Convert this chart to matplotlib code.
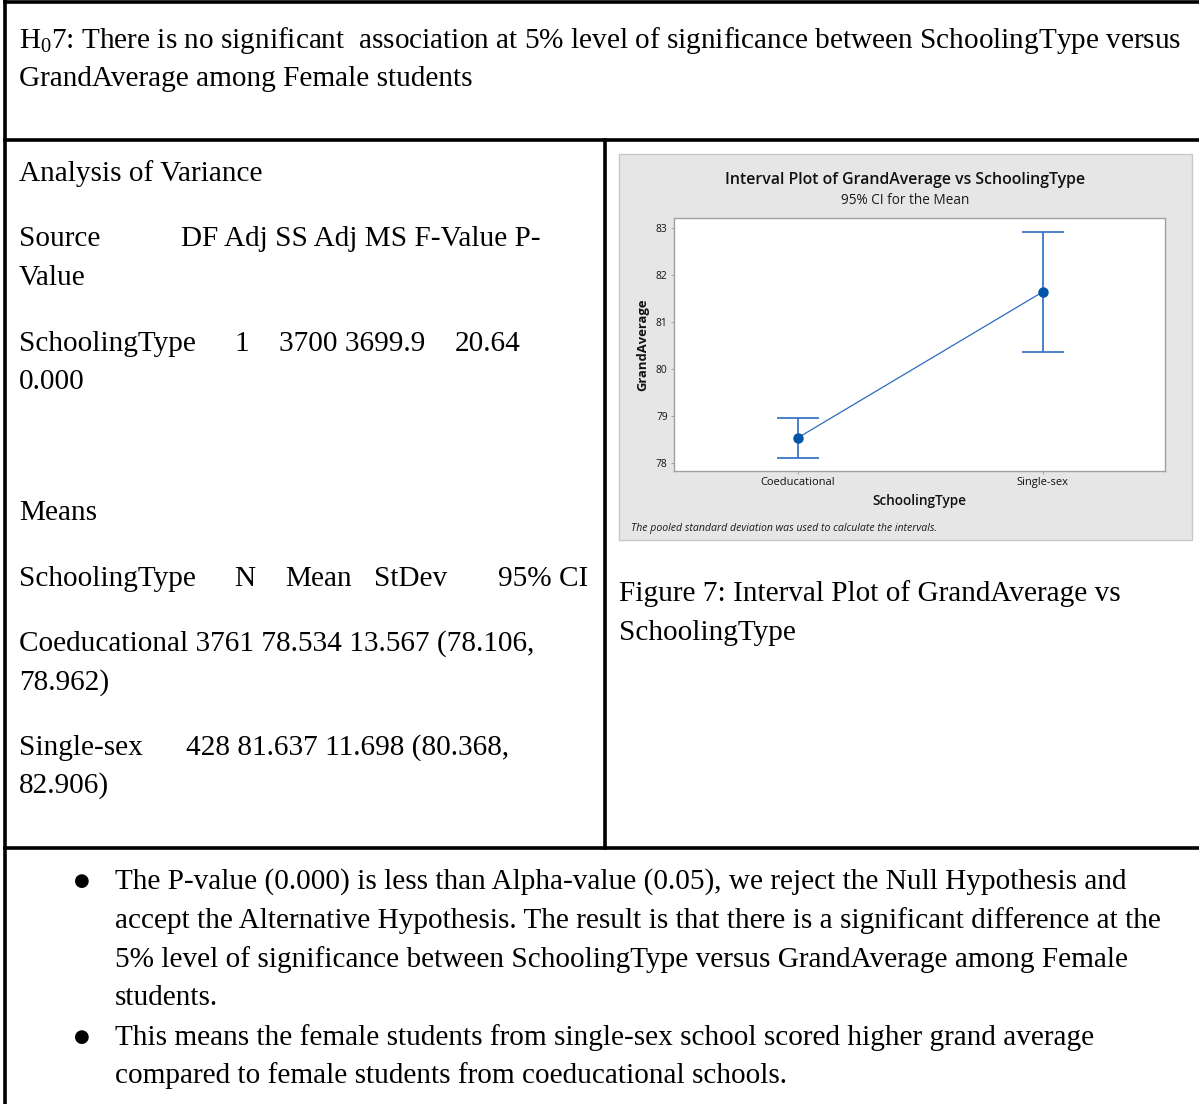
import matplotlib.pyplot as plt
from matplotlib.patches import Rectangle

W, H = 1199, 1104

CATEGORIES = ['Coeducational', 'Single-sex']
MEANS = [78.534, 81.637]
CI_LOW = [78.106, 80.368]
CI_HIGH = [78.962, 82.906]
Y_TICKS = [78, 79, 80, 81, 82, 83]

SERIF = ['Liberation Serif', 'DejaVu Sans']
SANS = ['Open Sans', 'DejaVu Sans']
BODY = 21.1
LINE_BLUE = '#2b6cbf'
DOT_BLUE = '#0054a6'


def main():
    plt.rcParams['mathtext.fontset'] = 'custom'
    plt.rcParams['mathtext.rm'] = 'Liberation Serif'
    plt.rcParams['mathtext.it'] = 'Liberation Serif:italic'
    fig = plt.figure(figsize=(W / 100, H / 100), dpi=100)
    page = fig.add_axes([0, 0, 1, 1])
    page.set_xlim(0, W)
    page.set_ylim(H, 0)
    page.axis('off')

    drawTable(page)
    drawLeftText(page)
    drawBullets(page)
    drawChart(fig, page)

    fig.savefig('out.png', dpi=100)


def drawTable(page):
    lw = 2.6
    page.plot([5, 5], [0, H], color='black', lw=lw)
    page.plot([5, W], [1.5, 1.5], color='black', lw=lw)
    page.plot([5, W], [139.5, 139.5], color='black', lw=lw)
    page.plot([605, 605], [139.5, 848], color='black', lw=lw)
    page.plot([5, W], [848, 848], color='black', lw=lw)


def put(page, x, y, s, size=BODY, **kw):
    page.text(x, y, s, fontsize=size, family=SERIF, va='center', ha='left', **kw)


def drawLeftText(page):
    put(page, 19, 40, 'H$_{0}$7: There is no significant  association at 5% level of significance between SchoolingType versus')
    put(page, 19, 79, 'GrandAverage among Female students')

    put(page, 19, 174, 'Analysis of Variance')
    put(page, 19, 239, 'Source')
    put(page, 181, 239, 'DF Adj SS Adj MS F-Value P-')
    put(page, 19, 278, 'Value')
    put(page, 19, 344, 'SchoolingType')
    put(page, 234, 344, '1')
    put(page, 279, 344, '3700 3699.9')
    put(page, 455, 344, '20.64')
    put(page, 19, 382, '0.000')

    put(page, 19, 513, 'Means')
    put(page, 19, 579, 'SchoolingType')
    put(page, 234, 579, 'N')
    put(page, 285, 579, 'Mean')
    put(page, 374, 579, 'StDev')
    put(page, 498, 579, '95% CI')
    put(page, 19, 644, 'Coeducational 3761 78.534 13.567 (78.106,')
    put(page, 19, 683, '78.962)')
    put(page, 19, 748, 'Single-sex')
    put(page, 186, 748, '428 81.637 11.698 (80.368,')
    put(page, 19, 786, '82.906)')

    put(page, 619, 594, 'Figure 7: Interval Plot of GrandAverage vs')
    put(page, 619, 633, 'SchoolingType')


def drawBullets(page):
    lines1 = ['The P-value (0.000) is less than Alpha-value (0.05), we reject the Null Hypothesis and',
              'accept the Alternative Hypothesis. The result is that there is a significant difference at the',
              '5% level of significance between SchoolingType versus GrandAverage among Female',
              'students.']
    lines2 = ['This means the female students from single-sex school scored higher grand average',
              'compared to female students from coeducational schools.']
    ys1 = [882, 921, 960, 998]
    ys2 = [1038, 1076]
    for y in [ys1[0], ys2[0]]:
        page.text(82, y - 1, '\u25cf', fontsize=13, family=['DejaVu Sans'], ha='center', va='center')
    for s, y in zip(lines1, ys1):
        put(page, 115, y, s)
    for s, y in zip(lines2, ys2):
        put(page, 115, y, s)


def drawChart(fig, page):
    # gray minitab panel
    page.add_patch(Rectangle((619, 154), 573, 386, facecolor='#e6e6e6', edgecolor='#c8c8c8', lw=1))
    page.text(905, 180, 'Interval Plot of GrandAverage vs SchoolingType', fontsize=11.4,
              family=SANS, fontweight='semibold', ha='center', va='center', color='#111111')
    page.text(905, 200, '95% CI for the Mean', fontsize=9.8, family=SANS,
              ha='center', va='center', color='#1a1a1a')
    page.text(631, 528, 'The pooled standard deviation was used to calculate the intervals.',
              fontsize=7.6, family=SANS, style='italic', ha='left', va='center', color='#1a1a1a')

    ax = fig.add_axes([674 / W, 1 - 471 / H, 491 / W, 253 / H])
    ax.set_facecolor('white')
    x = list(range(len(CATEGORIES)))
    lo = [m - l for m, l in zip(MEANS, CI_LOW)]
    hi = [h - m for m, h in zip(MEANS, CI_HIGH)]
    ax.plot(x, MEANS, color=LINE_BLUE, lw=0.9, zorder=2)
    ax.errorbar(x, MEANS, yerr=[lo, hi], fmt='none', ecolor=LINE_BLUE, elinewidth=1.2,
                capsize=21 * 0.72, capthick=1.2, zorder=3)
    ax.plot(x, MEANS, 'o', color=DOT_BLUE, ms=6.5, zorder=4)
    ax.set_xlim(-0.505, 1.5)
    ax.set_ylim(77.83, 83.21)
    ax.set_xticks(x)
    ax.set_xticklabels(CATEGORIES, fontsize=8, family=SANS, color='#111111')
    ax.set_yticks(Y_TICKS)
    ax.set_yticklabels([str(v) for v in Y_TICKS], fontsize=7.4, family=SANS, color='#111111')
    ax.tick_params(length=2.5, width=0.6, color='#999999', pad=2)
    for sp in ax.spines.values():
        sp.set_color('#a0a0a0')
        sp.set_linewidth(1)
    ax.set_xlabel('SchoolingType', fontsize=9.8, family=SANS, fontweight='semibold',
                  color='#111111', labelpad=4)
    ax.set_ylabel('GrandAverage', fontsize=9.4, family=SANS, fontweight='bold',
                  color='#111111', labelpad=5)


if __name__ == '__main__':
    main()
